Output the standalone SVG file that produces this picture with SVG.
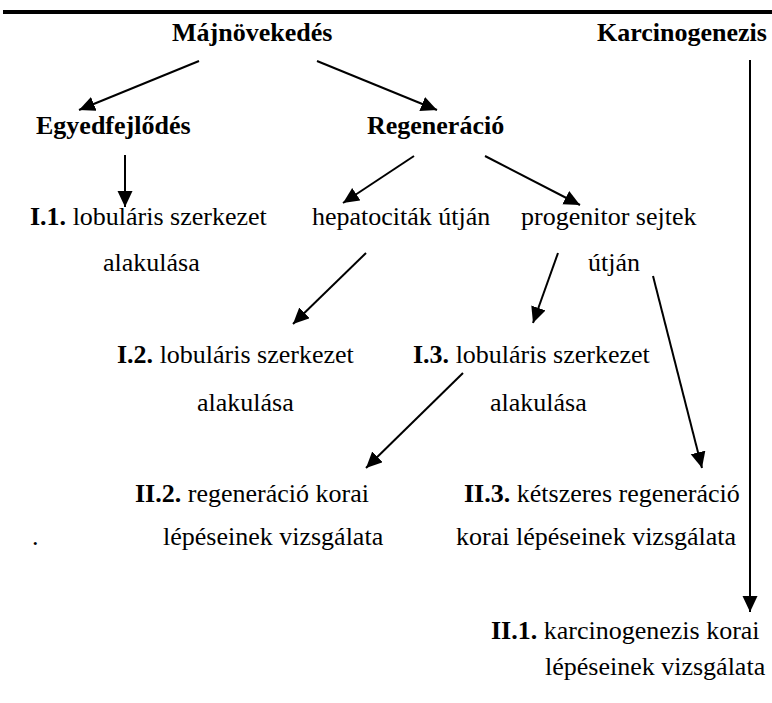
<svg xmlns="http://www.w3.org/2000/svg" width="772" height="703" viewBox="0 0 772 703">
<style>
text{font-family:'Liberation Serif',serif;font-size:26px;fill:#000}
.b{font-weight:bold}
.c line{stroke:#000;stroke-width:2;marker-end:url(#ah)}
</style>
<defs>
<marker id="ah" markerUnits="userSpaceOnUse" markerWidth="17" markerHeight="16" refX="16" refY="7.5" orient="auto">
<path d="M0,0 L16,7.5 L0,15 Z" fill="#000"/>
</marker>
</defs>
<rect width="772" height="703" fill="#fff"/>
<rect x="3" y="10" width="769" height="4" fill="#000"/>
<g id="majnovekedes"><text class="b" x="172" y="41">Májnövekedés</text></g>
<g id="karcinogenezis"><text class="b" x="597" y="41">Karcinogenezis</text></g>
<g id="egyedfejlodes"><text class="b" x="36" y="134">Egyedfejlődés</text></g>
<g id="regeneracio"><text class="b" x="367" y="134">Regeneráció</text></g>
<g id="I1"><text x="30" y="225"><tspan class="b">I.1.</tspan> lobuláris szerkezet</text><text x="103" y="271">alakulása</text></g>
<g id="hepatocitak"><text x="312" y="225">hepatociták útján</text></g>
<g id="progenitor"><text x="521" y="225">progenitor sejtek</text><text x="588" y="271">útján</text></g>
<g id="I2"><text x="117" y="363"><tspan class="b">I.2.</tspan> lobuláris szerkezet</text><text x="197" y="411">alakulása</text></g>
<g id="I3"><text x="413" y="363"><tspan class="b">I.3.</tspan> lobuláris szerkezet</text><text x="490" y="411">alakulása</text></g>
<g id="II2"><text x="135" y="502"><tspan class="b">II.2.</tspan> regeneráció korai</text><text x="163" y="545">lépéseinek vizsgálata</text></g>
<g id="dot"><text x="32" y="545">.</text></g>
<g id="II3"><text x="464" y="502"><tspan class="b">II.3.</tspan> kétszeres regeneráció</text><text x="456" y="545">korai lépéseinek vizsgálata</text></g>
<g id="II1"><text x="491" y="639"><tspan class="b">II.1.</tspan> karcinogenezis korai</text><text x="545" y="675">lépéseinek vizsgálata</text></g>
<g id="connectors" class="c">
<line x1="199" y1="61" x2="79" y2="110"/>
<line x1="317" y1="61" x2="437" y2="110"/>
<line x1="125" y1="155" x2="125" y2="207"/>
<line x1="414" y1="156" x2="343" y2="203"/>
<line x1="485" y1="156" x2="580" y2="205"/>
<line x1="366" y1="253" x2="293" y2="324"/>
<line x1="558" y1="253" x2="533" y2="323"/>
<line x1="653" y1="276" x2="702" y2="468"/>
<line x1="463" y1="373" x2="366" y2="468"/>
<line x1="750" y1="60" x2="750" y2="612"/>
</g>
</svg>
